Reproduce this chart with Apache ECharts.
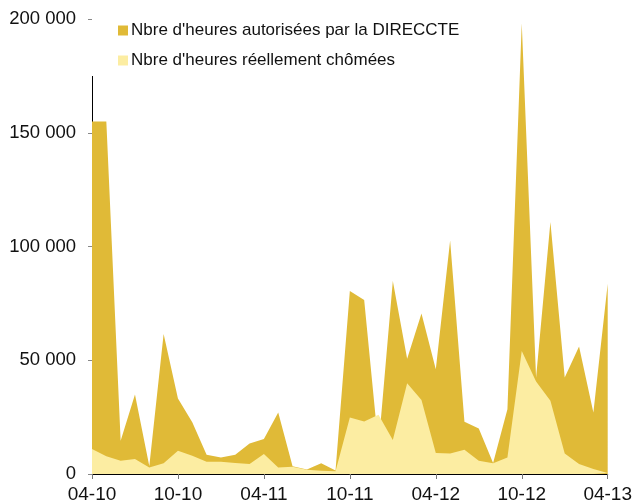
<!DOCTYPE html>
<html>
<head>
<meta charset="utf-8">
<script src="https://cdn.jsdelivr.net/npm/echarts@6/dist/echarts.min.js"></script>
<style>
html,body{margin:0;padding:0;background:#fff;}
#chart{width:635px;height:504px;}
</style>
</head>
<body>
<div id="chart"></div>
<script>
var categories = ["04-10","05-10","06-10","07-10","08-10","09-10","10-10","11-10","12-10","01-11","02-11","03-11","04-11","05-11","06-11","07-11","08-11","09-11","10-11","11-11","12-11","01-12","02-12","03-12","04-12","05-12","06-12","07-12","08-12","09-12","10-12","11-12","12-12","01-13","02-13","03-13","04-13"];
var seriesNames = ["Nbre d'heures autorisées par la DIRECCTE", "Nbre d'heures réellement chômées"];
var autorisees = [155000,155000,14600,35000,3500,61500,33200,22700,8500,7300,8500,13450,15350,27050,3400,2000,4700,1500,80400,76450,12000,84800,50700,70600,46050,102600,22950,20030,4800,28500,198100,42400,110800,42400,56000,27050,83600];
var chomees = [11000,7750,5850,6600,2900,4700,10250,8050,5400,5400,4800,4400,8800,2900,3200,1900,1450,1200,24850,23100,26000,14900,39900,32500,9200,9050,10650,5850,4700,7300,54100,40700,32150,9050,4400,2200,450];
var yTicks = [0, 50000, 100000, 150000, 200000];

var FONT = "'Liberation Sans', Arial, sans-serif";
var chart = echarts.init(document.getElementById('chart'), null, {renderer: 'canvas'});
function fmt(v){ return String(v).replace(/\B(?=(\d{3})+(?!\d))/g, ' '); }
chart.setOption({
  animation: false,
  backgroundColor: '#ffffff',
  color: ['#E0BA37', '#FCEDA2'],
  grid: {left: 92, right: 25, top: 19, bottom: 29, containLabel: false},
  legend: {
    orient: 'vertical',
    left: 92, top: 5,
    padding: [17, 6, 7, 26],
    backgroundColor: '#ffffff',
    icon: 'rect',
    itemWidth: 10, itemHeight: 10,
    itemGap: 13,
    textStyle: {fontFamily: FONT, fontSize: 17, color: '#111', lineHeight: 17, padding: [0,0,0,-2]},
    data: seriesNames
  },
  xAxis: {
    type: 'category',
    data: categories,
    boundaryGap: false,
    axisLine: {lineStyle: {color: '#000', width: 1}},
    axisTick: {show: true, interval: 5, length: 5, lineStyle: {color: '#777'}},
    axisLabel: {interval: 5, margin: 11, fontFamily: FONT, fontSize: 19, color: '#111', showMaxLabel: true}
  },
  yAxis: {
    type: 'value',
    min: yTicks[0], max: yTicks[yTicks.length-1], interval: yTicks[1]-yTicks[0],
    splitLine: {show: false},
    axisLine: {show: true, lineStyle: {color: '#000', width: 1}},
    axisTick: {show: true, length: 4, lineStyle: {color: '#888'}},
    axisLabel: {margin: 16, fontFamily: FONT, fontSize: 18.5, color: '#111', formatter: fmt}
  },
  series: [
    {name: seriesNames[0], type: 'line', data: autorisees, showSymbol: false, symbol: 'none',
     lineStyle: {width: 0}, areaStyle: {color: '#E0BA37', opacity: 1}, z: 2},
    {name: seriesNames[1], type: 'line', data: chomees, showSymbol: false, symbol: 'none',
     lineStyle: {width: 0}, areaStyle: {color: '#FCEDA2', opacity: 1}, z: 3}
  ]
});
</script>
</body>
</html>
